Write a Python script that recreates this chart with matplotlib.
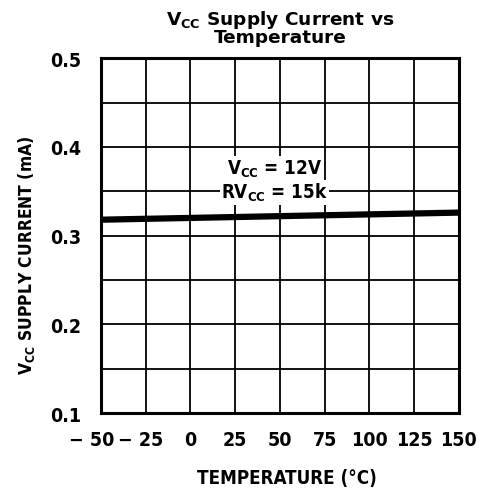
import numpy as np
import matplotlib
matplotlib.use("Agg")
import matplotlib.pyplot as plt
import matplotlib.transforms as mtrans

# data
temp = [-50, 0, 50, 100, 150]
icc = [0.318, 0.320, 0.322, 0.324, 0.326]

xticks = [-50, -25, 0, 25, 50, 75, 100, 125, 150]
xlabels = ["\u2212 50", "\u2212 25", "0", "25", "50", "75", "100", "125", "150"]
yticks = [0.1, 0.2, 0.3, 0.4, 0.5]
ylabels = ["0.1", "0.2", "0.3", "0.4", "0.5"]

fnt = dict(family="DejaVu Sans", fontstretch="condensed", fontweight="bold")

fig = plt.figure(figsize=(4.82, 4.89), dpi=100)
ax = fig.add_axes([0.2095, 0.153, 0.7425, 0.726])

ax.plot(temp, icc, color="black", linewidth=4.5, solid_capstyle="butt", zorder=3)

ax.set_xlim(-50, 150)
ax.set_ylim(0.1, 0.5)
ax.set_xticks(xticks)
ax.set_xticklabels(xlabels, **fnt)
ax.set_yticks(yticks)
ax.set_yticklabels(ylabels, **fnt)
ax.set_yticks(np.arange(0.15, 0.5, 0.1), minor=True)
ax.grid(True, which="both", color="black", linewidth=1.3)
ax.tick_params(which="both", length=0, labelsize=14)
ax.tick_params(axis="x", pad=12)
ax.tick_params(axis="y", pad=14)
for s in ax.spines.values():
    s.set_linewidth(2.2)

# negative labels sit a little left of their grid line, like the original
shifts = {0: -9, 1: -5}
for i, lab in enumerate(ax.get_xticklabels()):
    if i in shifts:
        off = mtrans.ScaledTranslation(shifts[i] / 100, 0, fig.dpi_scale_trans)
        lab.set_transform(lab.get_transform() + off)

ax.set_xlabel("TEMPERATURE (\u00b0C)", fontsize=13.5, labelpad=15, **fnt)
ax.xaxis.set_label_coords(0.52, -0.155)
ax.set_ylabel("V$_{\\mathregular{CC}}$ SUPPLY CURRENT (mA)", fontsize=12.5, **fnt)
ax.yaxis.set_label_coords(-0.18, 0.448)
ax.set_title("V$_{\\mathregular{CC}}$ Supply Current vs\nTemperature",
             family="DejaVu Sans", fontweight="bold", fontsize=13.3,
             linespacing=0.85, pad=12)

ax.text(47, 0.376, "V$_{\\mathregular{CC}}$ = 12V", fontsize=13.5, ha="center",
        va="center", zorder=4, bbox=dict(facecolor="white", edgecolor="none", pad=1), **fnt)
ax.text(47, 0.349, "RV$_{\\mathregular{CC}}$ = 15k", fontsize=13.5, ha="center",
        va="center", zorder=4, bbox=dict(facecolor="white", edgecolor="none", pad=1), **fnt)

fig.savefig("out.png", dpi=100)
